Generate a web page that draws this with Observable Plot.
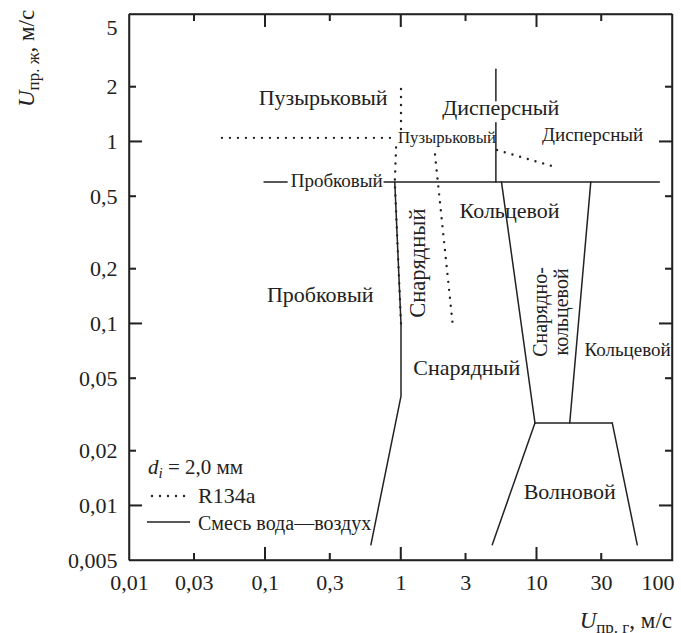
<!DOCTYPE html>
<html><head><meta charset="utf-8">
<script src="https://cdn.jsdelivr.net/npm/d3@7"></script>
<script src="https://cdn.jsdelivr.net/npm/@observablehq/plot@0.6"></script>
<style>
body{margin:0;background:#fff}
#chart svg{display:block;font-family:'Liberation Serif','Times New Roman',serif;background:#fff}
</style>
</head><body><div id="chart"></div>
<script>
// ---- axis ticks ----
const xTicks = [0.01, 0.03, 0.1, 0.3, 1, 3, 10, 30];
const xTickLabels = ["0,01", "0,03", "0,1", "0,3", "1", "3", "10", "30"];
const xLastTick = [100];
const xLastLabel = ["100"];
const xMajor = [0.1, 1, 10];
const xMinor = [0.03, 0.3, 3, 30];
const yTicks = [0.005, 0.01, 0.02, 0.05, 0.1, 0.2, 0.5, 1, 2];
const yTickLabels = ["0,005", "0,01", "0,02", "0,05", "0,1", "0,2", "0,5", "1", "2"];
const yTopTick = [5];
const yTopLabel = ["5"];
const yMajor = [0.01, 0.1, 1];
const yMinor = [0.02, 0.05, 0.2, 0.5, 2];
const xDomain = [0.01, 100];
const yDomain = [0.005, 5];

// ---- water–air boundaries (solid) ----
const waPlugStub = [[0.098, 0.6], [0.145, 0.6]];
const waBubbleLine = [[0.75, 0.6], [80, 0.6]];
const waDispersedUpper = [[5, 2.5], [5, 1.68]];
const waDispersedLower = [[5, 1.27], [5, 0.6]];
const waPlugSlug = [[0.9, 0.6], [1.0, 0.1], [1.0, 0.04], [0.6, 0.0061]];
const waSlugAnnular = [[5.5, 0.6], [9.7, 0.0285]];
const waAnnular = [[25, 0.6], [17.5, 0.0285]];
const waWavyTop = [[9.7, 0.0285], [36, 0.0285]];
const waWavyLeft = [[9.7, 0.0285], [4.7, 0.0061]];
const waWavyRight = [[36, 0.0285], [55, 0.0061]];

// ---- R134a boundaries (dotted) ----
const rBubbleH = [[0.048, 1.05], [0.87, 1.05]];
const rBubbleV = [[1.0, 1.95], [1.0, 1.15]];
const rPlugSlug = [[0.92, 0.93], [0.9, 0.6], [1.0, 0.1]];
const rSlugAnnular = [[1.78, 0.85], [2.4, 0.1]];
const rAnnularDisp = [[5.1, 0.9], [14.3, 0.72]];

// ---- region labels ----
const bigLabels = [
  {x: 0.267, y: 1.74, t: "Пузырьковый"},
  {x: 5.43, y: 1.54, t: "Дисперсный"},
  {x: 6.3, y: 0.419, t: "Кольцевой"},
  {x: 0.254, y: 0.143, t: "Пробковый"},
  {x: 3.05, y: 0.057, t: "Снарядный"},
  {x: 17.5, y: 0.0119, t: "Волновой"}
];
const smallLabels = [
  {x: 2.18, y: 1.05, t: "Пузырьковый"}
];
const midLabels = [
  {x: 25.8, y: 1.09, t: "Дисперсный"},
  {x: 0.336, y: 0.61, t: "Пробковый"},
  {x: 46.7, y: 0.0716, t: "Кольцевой"}
];
const rotLabel = [
  {x: 1.33, y: 0.215, t: "Снарядный"}
];
const rotLabel2 = [
  {x: 12.7, y: 0.116, t: "Снарядно-\nкольцевой"}
];

const W = 681, H = 633, mL = 129, mR = 9, mT = 14, mB = 73;
const iW = W - mL - mR, iH = H - mT - mB;
const ink = "#222";
const font = "'Liberation Serif','Times New Roman',serif";

const plot = Plot.plot({
  width: W, height: H,
  marginLeft: mL, marginRight: mR, marginTop: mT, marginBottom: mB,
  x: {type: "log", domain: xDomain},
  y: {type: "log", domain: yDomain},
  axis: null,
  marks: [
    // tick labels
    Plot.text(xTicks, {x: d => d, frameAnchor: "bottom", dy: 29, fontSize: 22, fill: ink,
      text: (d, i) => xTickLabels[i]}),
    Plot.text(xLastTick, {x: d => d, frameAnchor: "bottom", dy: 29, dx: 2, textAnchor: "end", fontSize: 22, fill: ink,
      text: (d, i) => xLastLabel[i]}),
    Plot.text(yTicks, {y: d => d, frameAnchor: "left", textAnchor: "end", dx: -12, fontSize: 22, fill: ink,
      text: (d, i) => yTickLabels[i]}),
    Plot.text(yTopTick, {y: d => d, frameAnchor: "left", textAnchor: "end", dx: -12, dy: 13,
      fontSize: 22, fill: ink, text: (d, i) => yTopLabel[i]}),
    // water–air (solid)
    ...[waPlugStub, waBubbleLine, waDispersedUpper, waDispersedLower, waPlugSlug,
        waSlugAnnular, waAnnular, waWavyTop, waWavyLeft, waWavyRight]
      .map(a => Plot.line(a, {stroke: ink, strokeWidth: 1.5})),
    // R134a (dotted)
    ...[rBubbleH, rBubbleV, rPlugSlug, rSlugAnnular, rAnnularDisp]
      .map(a => Plot.line(a, {stroke: ink, strokeWidth: 2.4, strokeDasharray: "0 8", strokeLinecap: "round"})),
    // region labels
    Plot.text(bigLabels, {x: "x", y: "y", text: "t", fontSize: 22, fill: ink}),
    Plot.text(smallLabels, {x: "x", y: "y", text: "t", fontSize: 16.7, fill: ink}),
    Plot.text(midLabels, {x: "x", y: "y", text: "t", fontSize: 19, fill: ink}),
    Plot.text(rotLabel, {x: "x", y: "y", text: "t", fontSize: 22.5, rotate: -90, fill: ink}),
    Plot.text(rotLabel2, {x: "x", y: "y", text: "t", fontSize: 20, rotate: -90, lineHeight: 1.05, fill: ink}),
    // inward ticks on all four sides (rules inset to a short length) and frame
    Plot.ruleX(xMajor, {insetTop: iH - 13, stroke: ink, strokeWidth: 1.5}),
    Plot.ruleX(xMinor, {insetTop: iH - 7, stroke: ink, strokeWidth: 1.5}),
    Plot.ruleX(xMajor, {insetBottom: iH - 13, stroke: ink, strokeWidth: 1.5}),
    Plot.ruleX(xMinor, {insetBottom: iH - 7, stroke: ink, strokeWidth: 1.5}),
    Plot.ruleY(yMajor, {insetRight: iW - 13, stroke: ink, strokeWidth: 1.5}),
    Plot.ruleY(yMinor, {insetRight: iW - 7, stroke: ink, strokeWidth: 1.5}),
    Plot.ruleY(yMajor, {insetLeft: iW - 13, stroke: ink, strokeWidth: 1.5}),
    Plot.ruleY(yMinor, {insetLeft: iW - 7, stroke: ink, strokeWidth: 1.5}),
    Plot.frame({stroke: ink, strokeWidth: 1.5})
  ]
});
document.getElementById("chart").appendChild(plot);

const svg = d3.select(plot);
const sx = plot.scale("x"), sy = plot.scale("y");
const yb = sy.apply(yDomain[0]), yt = sy.apply(yDomain[1]);
const xl = sx.apply(xDomain[0]), xr = sx.apply(xDomain[1]);

// axis titles and legend (rich text with italics and subscripts)
function richText(g, parts, size, anchor) {
  const t = g.append("text").attr("fill", ink).attr("text-anchor", anchor)
    .style("font-family", font).style("font-size", size + "px");
  parts.forEach(p => {
    const s = t.append("tspan").text(p.t);
    if (p.it) s.style("font-style", "italic");
    if (p.sub) s.style("font-size", p.sub + "px");
    if (p.dy) s.attr("dy", p.dy);
  });
  return t;
}
richText(svg.append("g").attr("transform", `translate(${xr},628)`),
  [{t: "U", it: true}, {t: "пр. г", sub: 17, dy: 5}, {t: ", м/с", dy: -5}], 23, "end");
richText(svg.append("g").attr("transform", `translate(34,107) rotate(-90)`),
  [{t: "U", it: true}, {t: "пр. ж", sub: 17, dy: 5}, {t: ", м/с", dy: -5}], 23, "start");

const lg = svg.append("g").attr("transform", `translate(${xl + 19},474)`);
richText(lg, [{t: "d", it: true}, {t: "i", it: true, sub: 15, dy: 4}, {t: " = 2,0 мм", dy: -4}], 21, "start");
lg.append("line").attr("x1", 4).attr("x2", 42).attr("y1", 22).attr("y2", 22)
  .attr("stroke", ink).attr("stroke-width", 2.4).attr("stroke-dasharray", "0 8").attr("stroke-linecap", "round");
lg.append("text").attr("x", 50).attr("y", 29).attr("fill", ink).attr("text-anchor", "start")
  .style("font-family", font).style("font-size", "22px").text("R134a");
lg.append("line").attr("x1", -1).attr("x2", 42).attr("y1", 48).attr("y2", 48)
  .attr("stroke", ink).attr("stroke-width", 1.5);
lg.append("text").attr("x", 50).attr("y", 56).attr("fill", ink).attr("text-anchor", "start")
  .style("font-family", font).style("font-size", "20px").text("Смесь вода—воздух");

// frame and inward ticks once more, appended last, through Plot's own scales
const box = svg.append("g");
const seg = (x1, y1, x2, y2) => box.append("line").attr("x1", x1).attr("y1", y1).attr("x2", x2).attr("y2", y2)
  .attr("stroke", ink).attr("stroke-width", 1.5);
seg(xl, yt, xr, yt); seg(xl, yb, xr, yb); seg(xl, yt, xl, yb); seg(xr, yt, xr, yb);
[[xMajor, 13], [xMinor, 7]].forEach(([vals, len]) => vals.forEach(v => {
  const px = sx.apply(v);
  seg(px, yb, px, yb - len); seg(px, yt, px, yt + len);
}));
[[yMajor, 13], [yMinor, 7]].forEach(([vals, len]) => vals.forEach(v => {
  const py = sy.apply(v);
  seg(xl, py, xl + len, py); seg(xr, py, xr - len, py);
}));
</script>
</body></html>
